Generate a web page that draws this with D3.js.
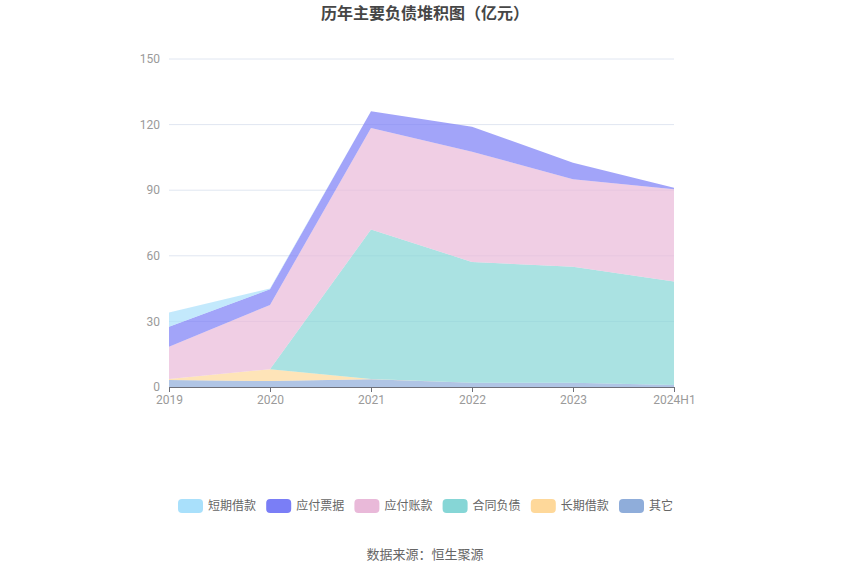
<!DOCTYPE html>
<html><head><meta charset="utf-8">
<script src="https://cdn.jsdelivr.net/npm/d3@7/dist/d3.min.js"></script>
<style>body{margin:0;background:#fff;font-family:"Noto Sans CJK SC","Noto Sans",sans-serif;}</style>
</head><body><svg id="c" width="850" height="575"></svg>
<script>
const categories = ["2019","2020","2021","2022","2023","2024H1"];
const seriesNames = ["短期借款","应付票据","应付账款","合同负债","长期借款","其它"];
const 短期借款 = [6.5, 0.4, 0, 0, 0, 0];
const 应付票据 = [9.2, 7.2, 7.6, 11.4, 7.6, 0.7];
const 应付账款 = [14.7, 29.4, 46.5, 50.4, 40.0, 42.2];
const 合同负债 = [0, 0, 68.3, 55.2, 53.0, 47.3];
const 长期借款 = [0.5, 5.4, 0.2, 0, 0, 0];
const 其它 = [3.2, 2.7, 3.5, 2.0, 2.0, 0.9];
const yTicks = [0, 30, 60, 90, 120, 150];
const colors = {"短期借款":"#a9e0fb","应付票据":"#7a7ef6","应付账款":"#e9b9d9","合同负债":"#86d6d6","长期借款":"#fed89a","其它":"#8fadda"};
const valuesByName = {短期借款, 应付票据, 应付账款, 合同负债, 长期借款, 其它};

const svg = d3.select("#c");
const x = d3.scalePoint().domain(categories).range([169, 674]);
const y = d3.scaleLinear().domain([0, 150]).range([387, 59]);

// title
svg.append("text").attr("x", 425).attr("y", 19).attr("text-anchor", "middle")
  .attr("font-size", 16).attr("font-weight", "bold").attr("fill", "#464646").text("历年主要负债堆积图（亿元）");

// grid
svg.append("g").selectAll("line").data(yTicks.filter(d => d > 0)).join("line")
  .attr("x1", 169).attr("x2", 674).attr("y1", d => y(d)).attr("y2", d => y(d))
  .attr("stroke", "#e0e6f1").attr("stroke-width", 1);

// stack (bottom first)
const order = ["其它","长期借款","合同负债","应付账款","应付票据","短期借款"];
const table = categories.map((c, i) => { const o = {cat: c}; order.forEach(n => o[n] = valuesByName[n][i]); return o; });
const stacked = d3.stack().keys(order)(table);
const area = d3.area().x(d => x(d.data.cat)).y0(d => y(d[0])).y1(d => y(d[1]));
svg.append("g").selectAll("path").data(stacked).join("path")
  .attr("d", area).attr("fill", d => colors[d.key]).attr("fill-opacity", 0.7);

// y axis labels
svg.append("g").selectAll("text").data(yTicks).join("text")
  .attr("x", 160).attr("y", d => y(d)).attr("dy", "0.35em").attr("text-anchor", "end")
  .attr("font-size", 12).attr("fill", "#9a9a9a").attr("font-family", "Roboto, sans-serif").text(d => d);

// x axis
const xa = svg.append("g").attr("transform", "translate(0,387)")
  .call(d3.axisBottom(x).tickSize(5).tickPadding(3));
xa.select(".domain").attr("stroke", "#6e7079").attr("d", "M169,0.5H674");
xa.selectAll(".tick line").attr("stroke", "#6e7079");
xa.selectAll("text").attr("font-size", 12).attr("fill", "#9a9a9a").attr("font-family", "Roboto, sans-serif");

// legend
const lg = svg.append("g");
seriesNames.forEach((n, i) => {
  const gx = 178 + i * 88.2;
  lg.append("rect").attr("x", gx).attr("y", 499).attr("width", 25).attr("height", 14).attr("rx", 4)
    .attr("fill", colors[n]);
  lg.append("text").attr("x", gx + 30).attr("y", 506).attr("dy", "0.35em").attr("font-size", 12)
    .attr("fill", "#666").text(n);
});

// source
svg.append("text").attr("x", 425).attr("y", 559).attr("text-anchor", "middle")
  .attr("font-size", 13).attr("fill", "#666").text("数据来源：恒生聚源");
</script></body></html>
